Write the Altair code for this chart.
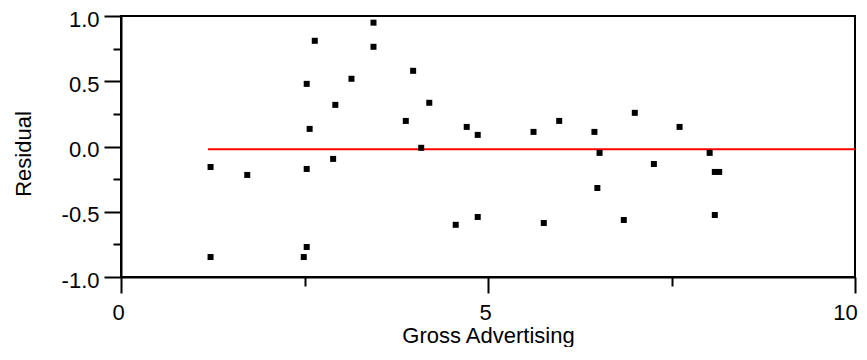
import altair as alt
import pandas as pd

# Residual plot data
gross_advertising = [1.22, 1.22, 1.72, 2.53, 2.64, 2.57, 2.53, 2.53, 2.49, 2.92,
                     2.89, 3.14, 3.44, 3.44, 3.98, 3.88, 4.20, 4.09, 4.71, 4.86,
                     4.56, 4.86, 5.62, 5.97, 6.45, 7.00, 7.61, 6.52, 7.26, 8.02,
                     6.49, 8.09, 8.15, 5.76, 6.85, 8.09]
residual = [-0.157, -0.847, -0.218, 0.48, 0.81, 0.135, -0.172, -0.77, -0.847, 0.319,
            -0.095, 0.519, 0.949, 0.764, 0.58, 0.196, 0.335, -0.01, 0.15, 0.089,
            -0.60, -0.54, 0.112, 0.196, 0.112, 0.258, 0.15, -0.049, -0.134, -0.049,
            -0.318, -0.195, -0.195, -0.586, -0.563, -0.525]

fit_x = [1.185, 10.0]
fit_y = [-0.021, -0.021]

x_major = [0, 5, 10]
x_minor = [2.5, 7.5]
y_major = [-1.0, -0.5, 0.0, 0.5, 1.0]
y_minor = [-0.75, -0.25, 0.25, 0.75]

pts = pd.DataFrame({"x": gross_advertising, "y": residual})
fit = pd.DataFrame({"x": fit_x, "y": fit_y})

FONT = "Liberation Sans"
FS = 22

x_scale = alt.Scale(domain=[0, 10], nice=False, zero=False)
y_scale = alt.Scale(domain=[-1, 1], nice=False, zero=False)

common = dict(grid=False, tickColor="black", tickWidth=2, domainColor="black", domainWidth=2)

x_axis_major = alt.Axis(
    orient="bottom",
    title="Gross  Advertising",
    values=x_major,
    format="d",
    tickSize=16,
    labelFlush=False, labelOverlap=False,
    labelFont=FONT, labelFontSize=FS, labelColor="black", labelPadding=9,
    labelOffset={"condition": {"test": "datum.value >= 10", "value": -10}, "value": -3},
    titleFont=FONT, titleFontSize=FS, titleFontWeight="normal", titleColor="black",
    titleBaseline="alphabetic", titleY=65,
    **common,
)
y_axis_major = alt.Axis(
    orient="left",
    title="Residual",
    values=y_major,
    labelExpr="(datum.value < -1e-6 ? '-' : '') + format(abs(datum.value), '.1f')",
    tickSize=17,
    labelFlush=False, labelOverlap=False,
    labelFont=FONT, labelFontSize=FS, labelColor="black", labelPadding=5, labelOffset=3,
    titleFont=FONT, titleFontSize=FS, titleFontWeight="normal", titleColor="black",
    titleBaseline="alphabetic", titleX=-91, titleY=137.5,
    **common,
)
x_axis_minor = alt.Axis(
    orient="bottom", title=None, values=x_minor, labels=False, domain=False,
    tickSize=9, grid=False, tickColor="black", tickWidth=2,
)
y_axis_minor = alt.Axis(
    orient="left", title=None, values=y_minor, labels=False, domain=False,
    tickSize=8, grid=False, tickColor="black", tickWidth=2,
)

line = alt.Chart(fit).mark_line(color="#ff0000", strokeWidth=2).encode(
    x=alt.X("x:Q", scale=x_scale, axis=x_axis_minor),
    y=alt.Y("y:Q", scale=y_scale, axis=y_axis_minor),
)

points = alt.Chart(pts).mark_square(size=36, color="black", opacity=1, filled=True).encode(
    x=alt.X("x:Q", scale=x_scale, axis=x_axis_major),
    y=alt.Y("y:Q", scale=y_scale, axis=y_axis_major),
)

chart = alt.layer(line, points).resolve_axis(
    x="independent", y="independent"
).properties(
    width=734, height=261,
    autosize=alt.AutoSizeParams(type="none"),
    padding={"left": 113, "top": 8, "right": 4, "bottom": 70},
    background="white",
).configure_view(stroke="black", strokeWidth=2)

chart.save("out.html", embed_options={"renderer": "svg", "actions": False})
